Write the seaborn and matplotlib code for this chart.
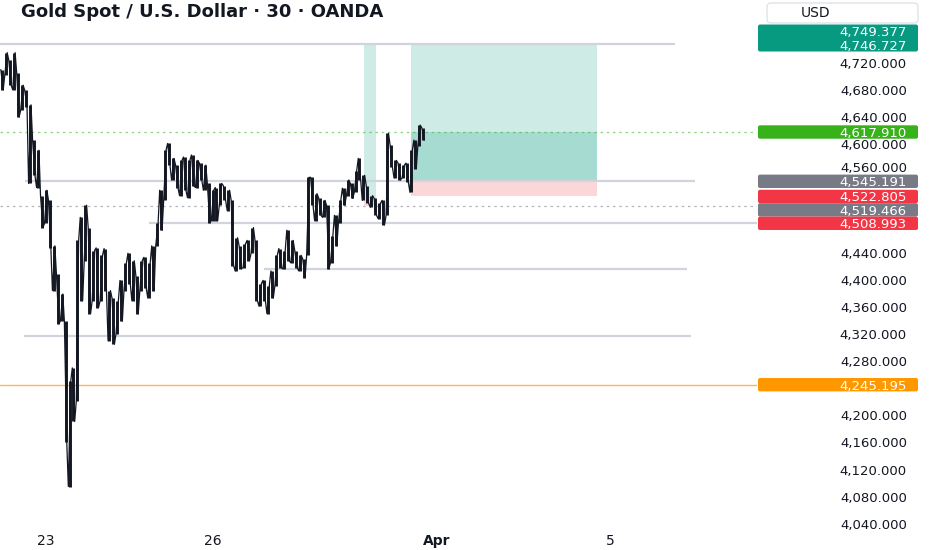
import matplotlib
matplotlib.use("Agg")
import matplotlib.pyplot as plt
from matplotlib.patches import FancyBboxPatch, Rectangle
from matplotlib.transforms import IdentityTransform, ScaledTranslation
import seaborn as sns
import numpy as np
import pandas as pd

# ---------------- data ----------------
title = "Gold Spot / U.S. Dollar · 30 · OANDA"
currency = "USD"

# 30-min XAUUSD bars, sampled: high / low of each visible column
highs = [4710, 4735, 4724, 4735, 4705, 4687, 4680, 4658, 4606, 4591,
         4524, 4532, 4517, 4450, 4409, 4379, 4339, 4250, 4270, 4458,
         4492, 4510, 4477, 4443, 4447, 4436, 4446, 4384, 4373, 4369,
         4399, 4424, 4439, 4428, 4406, 4428, 4433, 4424, 4450, 4483,
         4532, 4591, 4601, 4579, 4569, 4576, 4581, 4576, 4584, 4576,
         4572, 4569, 4542, 4532, 4536, 4542, 4539, 4532, 4517, 4462,
         4450, 4453, 4458, 4477, 4458, 4394, 4399, 4391, 4413, 4436,
         4446, 4443, 4473, 4458, 4443, 4436, 4431, 4551, 4551, 4527,
         4521, 4517, 4510, 4465, 4495, 4517, 4535, 4547, 4542, 4561,
         4579, 4554, 4539, 4524, 4520, 4513, 4517, 4616, 4599, 4576,
         4572, 4569, 4572, 4591, 4606, 4628, 4624]
lows = [4680, 4702, 4687, 4680, 4640, 4650, 4655, 4542, 4554, 4536,
        4477, 4483, 4447, 4384, 4335, 4339, 4161, 4095, 4191, 4221,
        4369, 4428, 4350, 4369, 4359, 4369, 4384, 4310, 4305, 4320,
        4339, 4384, 4394, 4369, 4350, 4384, 4388, 4373, 4384, 4450,
        4473, 4517, 4569, 4547, 4536, 4524, 4532, 4521, 4539, 4536,
        4547, 4532, 4484, 4487, 4487, 4510, 4517, 4502, 4421, 4413,
        4416, 4418, 4428, 4439, 4369, 4361, 4369, 4350, 4373, 4391,
        4418, 4416, 4428, 4425, 4418, 4413, 4403, 4436, 4510, 4487,
        4495, 4492, 4416, 4425, 4450, 4484, 4510, 4524, 4520, 4529,
        4547, 4517, 4513, 4507, 4495, 4490, 4481, 4495, 4566, 4550,
        4547, 4550, 4544, 4529, 4564, 4598, 4606]

last_price = 4617.910

# horizontal levels: price, start bar, end bar (None = to right edge)
gray_levels = [4747.0, 4545.191, 4484.4, 4416.3, 4317.0]
gray_starts = [-0.5, 5.8, 37.0, 66.0, 5.5]
gray_ends = [169.4, 174.5, None, 172.5, 173.5]
stop_dotted_level = 4508.993
orange_level = 4245.195

# long position tools: (start bar, end bar, entry, target, stop)
pos_start = [103.0, 91.1]
pos_end = [149.8, 94.2]
pos_entry = [4545.191, 4519.466]
pos_target = [4746.727, 4749.377]
pos_stop = [4522.805, 4508.993]

# right-hand price axis ticks
tick_values = [4720, 4680, 4640, 4600, 4560, 4440, 4400, 4360, 4320,
               4280, 4200, 4160, 4120, 4080, 4040]

# price-scale labels
top_pair = [4749.377, 4746.727]
label_values = [4617.910, 4545.191, 4522.805, 4519.466, 4508.993, 4245.195]
label_colors = ["#37b21b", "#787b86", "#f23645", "#787b86", "#f23645", "#ff9800"]

# date axis
date_labels = ["23", "26", "Apr", "5"]
date_pos = [11.1, 53.1, 109.5, 153.1]

# ---------------- figure ----------------
W, H = 932, 550
sns.set_theme(style="white")
plt.rcParams["font.family"] = ["DejaVu Sans"]
fig = plt.figure(figsize=(W / 100, H / 100), dpi=100)
fig.patch.set_facecolor("white")

ax_left, ax_right, ax_top, ax_bot = 0, 757, 0, 530
ax = fig.add_axes([ax_left / W, (H - ax_bot) / H, (ax_right - ax_left) / W,
                   (ax_bot - ax_top) / H])
ax.set_facecolor("white")
for s in ax.spines.values():
    s.set_visible(False)

px_per_bar = 3.972
ax.set_xlim(-2 / px_per_bar, (ax_right - 2) / px_per_bar)
ax.set_ylim(4030.9, 4812.6)

TXT = "#131722"
teal_light = "#ceebe6"
teal_dark = "#a6dbd2"
pink = "#fcd7da"
FS = 9.5

# position tools
for xs, xe, en, tg, st in zip(pos_start, pos_end, pos_entry, pos_target, pos_stop):
    ax.add_patch(Rectangle((xs, en), xe - xs, tg - en, facecolor=teal_light,
                           edgecolor="none", zorder=1))
    ax.add_patch(Rectangle((xs, st), xe - xs, en - st, facecolor=pink,
                           edgecolor="none", zorder=1))
# active trade: darker band between entry and current price
ax.add_patch(Rectangle((pos_start[0], pos_entry[0]), pos_end[0] - pos_start[0],
                       last_price - pos_entry[0], facecolor=teal_dark,
                       edgecolor="none", zorder=1.2))

xmax = ax.get_xlim()[1]
for lv, xs, xe in zip(gray_levels, gray_starts, gray_ends):
    ax.plot([xs, xmax if xe is None else xe], [lv, lv], color="#d1d4dc",
            lw=1.6, zorder=2, solid_capstyle="butt")
ax.axhline(last_price, color="#37b21b", lw=0.9, ls=(0, (2, 3)), alpha=0.55, zorder=2)
ax.axhline(stop_dotted_level, color="#9598a1", lw=0.9, ls=(0, (2, 3)), alpha=0.7, zorder=2)
ax.axhline(orange_level, color="#ffb74d", lw=1.0, zorder=2)

# price bars
idx = np.arange(len(highs))
ax.vlines(idx, lows, highs, color=TXT, lw=2.1, zorder=3)
zx, zy = [], []
for i, (h, l) in enumerate(zip(highs, lows)):
    a, b = (h, l) if i % 2 == 0 else (l, h)
    zx += [i - 0.3, i + 0.3]
    zy += [a, b]
df = pd.DataFrame({"x": zx, "y": zy})
sns.lineplot(data=df, x="x", y="y", sort=False, estimator=None, color=TXT,
             lw=0.9, ax=ax, zorder=3)
ax.set_xlabel("")
ax.set_ylabel("")

# price axis ticks on the right
ax.yaxis.tick_right()
ax.set_yticks(tick_values)
ax.set_yticklabels([f"{v:,.3f}" for v in tick_values])
ax.tick_params(axis="y", length=0, pad=(907 - ax_right) * 0.72, labelsize=FS,
               labelcolor=TXT)
for lab in ax.get_yticklabels():
    lab.set_horizontalalignment("right")


def y_top(v):
    """pixel row (from top) of a price value"""
    return H - ax.transData.transform((0, v))[1]


# keep tick labels that sit right above a scale label clear of it
label_rows = [y_top(v) for v in label_values]
for tv, lab in zip(tick_values, ax.get_yticklabels()):
    yt = y_top(tv)
    for yl in label_rows:
        d = yl - yt
        if 0 < d < 14:
            lab.set_transform(lab.get_transform() +
                              ScaledTranslation(0, (14 - d) / 100, fig.dpi_scale_trans))

# date axis
ax.set_xticks(date_pos)
ax.set_xticklabels(date_labels)
ax.tick_params(axis="x", length=0, pad=3, labelsize=10, labelcolor=TXT)
for lab in ax.get_xticklabels():
    if lab.get_text() == "Apr":
        lab.set_fontweight("bold")

ax.grid(False)

# ---------------- price labels on scale ----------------
def box(yc, hgt, color, ec="none"):
    p = FancyBboxPatch((758, H - yc - hgt / 2), 160, hgt,
                       boxstyle="round,pad=0,rounding_size=2",
                       facecolor=color, edgecolor=ec, lw=1,
                       transform=IdentityTransform())
    fig.add_artist(p)

def label_text(yc, s, color="white"):
    fig.text(907 / W, (H - yc) / H, s, color=color, fontsize=FS, ha="right",
             va="center_baseline")

# top teal pair
y_low = y_top(top_pair[1])
y_up = y_low - 13.3
box((y_low + y_up) / 2, 27, "#089981")
label_text(y_up, f"{top_pair[0]:,.3f}")
label_text(y_low, f"{top_pair[1]:,.3f}")

prev = -1e9
for v, c in zip(label_values, label_colors):
    yc = max(y_top(v), prev + 13.4)
    box(yc, 13.4, c)
    label_text(yc, f"{v:,.3f}")
    prev = yc

# USD box
p = FancyBboxPatch((767, H - 23), 151, 20, boxstyle="round,pad=0,rounding_size=4",
                   facecolor="white", edgecolor="#e0e3eb", lw=1,
                   transform=IdentityTransform())
fig.add_artist(p)
fig.text(816 / W, (H - 13) / H, currency, color=TXT, fontsize=FS + 0.5, ha="center",
         va="center")

# title
fig.text(21 / W, (H - 12) / H, title, color=TXT, fontsize=13, fontweight="bold",
         ha="left", va="center")

fig.savefig("out.png", dpi=100, facecolor="white")
